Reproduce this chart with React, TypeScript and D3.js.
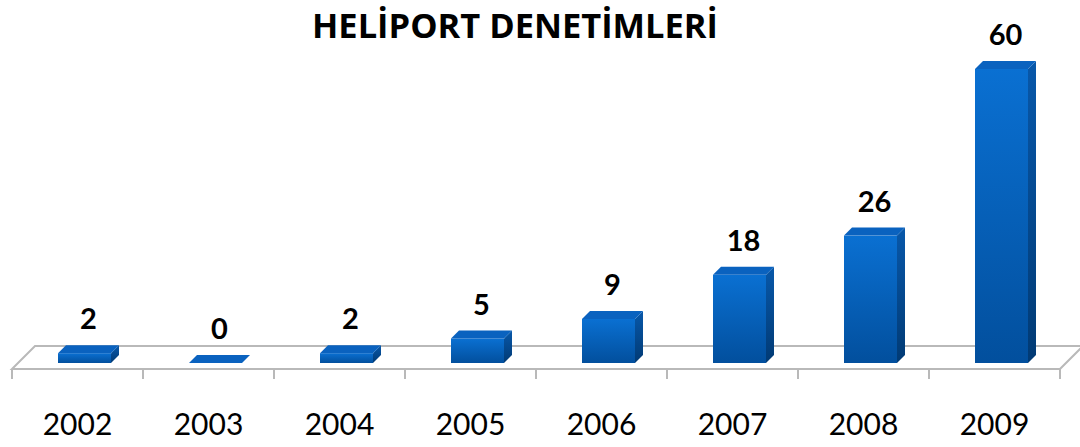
import React from "react";
import * as d3 from "d3";

const years = ["2002", "2003", "2004", "2005", "2006", "2007", "2008", "2009"];
const values = [2, 0, 2, 5, 9, 18, 26, 60];
const title = "HELİPORT DENETİMLERİ";

const W = 1080;
const H = 447;

export default function App() {
  const x = d3.scaleBand<string>().domain(years).range([12, 1060]).padding(0);
  const y = d3.scaleLinear().domain([0, 60]).range([363, 69]);
  const barW = 53;
  const off = 7;
  const dx = 8;
  const dy = 8;
  const floorFrontY = 369;
  const floorBackY = 346;
  const fdx = 23;
  const gray = "#b9b9b9";

  return (
    <svg width={W} height={H} style={{ position: "absolute", left: 0, top: 0, display: "block" }}>
      <defs>
        <linearGradient id="front" x1="0" y1="0" x2="0" y2="1">
          <stop offset="0" stopColor="#0a70d2" />
          <stop offset="1" stopColor="#024f9d" />
        </linearGradient>
        <linearGradient id="side" x1="0" y1="0" x2="0" y2="1">
          <stop offset="0" stopColor="#0858aa" />
          <stop offset="1" stopColor="#013a74" />
        </linearGradient>
      </defs>
      <rect width={W} height={H} fill="#fff" />
      <path
        d={`M12,${floorFrontY} L${12 + fdx},${floorBackY} L${1060 + fdx},${floorBackY} L1060,${floorFrontY} Z`}
        fill="#fff"
        stroke={gray}
        strokeWidth={2}
      />
      {[...years.map((d) => x(d) as number), 1060].map((t, i) => (
        <line key={i} x1={t} x2={t} y1={floorFrontY} y2={floorFrontY + 10} stroke={gray} strokeWidth={2} />
      ))}
      {years.map((yr, i) => {
        const cx = (x(yr) as number) + x.bandwidth() / 2;
        const x0 = cx - barW / 2 + off;
        const x1 = x0 + barW;
        const yb = y(0);
        const yt = y(values[i]);
        const v = values[i];
        return (
          <g key={yr}>
            {v > 0 ? (
              <>
                <rect x={x0} y={yt} width={barW} height={yb - yt} fill="url(#front)" />
                <path d={`M${x1},${yt} L${x1 + dx},${yt - dy} L${x1 + dx},${yb - dy} L${x1},${yb} Z`} fill="url(#side)" />
                <path d={`M${x0},${yt} L${x0 + dx},${yt - dy} L${x1 + dx},${yt - dy} L${x1},${yt} Z`} fill="#0a62bf" />
              </>
            ) : (
              <path d={`M${x0},${yb} L${x0 + dx},${yb - dy} L${x1 + dx},${yb - dy} L${x1},${yb} Z`} fill="#0a62bf" />
            )}
            <text
              x={cx + off + dx / 2}
              y={yt - dy - 16}
              textAnchor="middle"
              fontFamily="Lato, 'Open Sans', sans-serif"
              fontWeight="bold"
              fontSize={29}
              fill="#000"
            >
              {v}
            </text>
            <text
              x={cx}
              y={435}
              textAnchor="middle"
              fontFamily="Lato, 'Open Sans', sans-serif"
              fontSize={30}
              fill="#000"
            >
              {yr}
            </text>
          </g>
        );
      })}
      <text
        x={515}
        y={38}
        textAnchor="middle"
        fontFamily="'Open Sans', sans-serif"
        fontWeight="bold"
        fontSize={34}
        textLength={406}
        lengthAdjust="spacingAndGlyphs"
        fill="#000"
      >
        {title}
      </text>
    </svg>
  );
}
